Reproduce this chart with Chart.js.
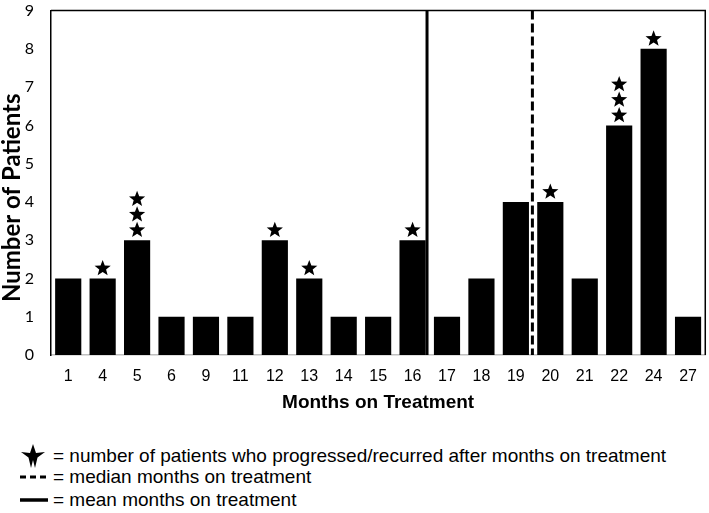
<!DOCTYPE html>
<html>
<head>
<meta charset="utf-8">
<script src="https://cdn.jsdelivr.net/npm/chart.js@4"></script>
<style>
  html, body { margin: 0; padding: 0; background: #fff; overflow: hidden; }
  #wrap { position: relative; width: 709px; height: 513px; overflow: hidden; font-family: "Liberation Sans", Arial, sans-serif; }
  #chartBox { position: absolute; left: 0; top: -16px; width: 709px; height: 436px; }
  #legend { position: absolute; left: 0; top: 445px; width: 709px; }
  .row { position: absolute; left: 0; height: 22px; width: 709px; font-size: 19px; line-height: 22px; color: #000; white-space: nowrap; }
  .row svg { position: absolute; }
  .row span { position: absolute; left: 53px; top: 0; }
</style>
</head>
<body>
<div id="wrap">
  <div id="chartBox"><canvas id="c" width="709" height="436"></canvas></div>
  <div id="legend"></div>
</div>
<script>
// ---- data ----
const months = ['1','4','5','6','9','11','12','13','14','15','16','17','18','19','20','21','22','24','27'];
const patients = [2,2,3,1,1,1,3,2,1,1,3,1,2,4,4,2,6,8,1];
const progressed = [0,1,3,0,0,0,1,1,0,0,1,0,0,0,1,0,3,1,0];
const yTicks = [0,1,2,3,4,5,6,7,8,9];
// reference line positions, in category-index units on the x axis
const meanPosition = [10.42];
const medianPosition = [13.48];
const yTitle = 'Number of Patients';
const xTitle = 'Months on Treatment';
const legendTexts = [
  '= number of patients who progressed/recurred after months on treatment',
  '= median months on treatment',
  '= mean months on treatment'
];

function starPath(ctx, cx, cy, ro, ri) {
  ctx.beginPath();
  for (let i = 0; i < 10; i++) {
    const r = i % 2 === 0 ? ro : ri;
    const a = -Math.PI / 2 + i * Math.PI / 5;
    const x = cx + r * Math.cos(a), y = cy + r * Math.sin(a);
    if (i === 0) ctx.moveTo(x, y); else ctx.lineTo(x, y);
  }
  ctx.closePath();
}

const overlay = {
  id: 'overlay',
  afterDatasetsDraw(chart) {
    const ctx = chart.ctx, a = chart.chartArea, xs = chart.scales.x;
    ctx.save();
    ctx.strokeStyle = '#000'; ctx.lineWidth = 1.5;
    ctx.beginPath();
    ctx.moveTo(a.left, a.top); ctx.lineTo(a.right, a.top); ctx.lineTo(a.right, a.bottom);
    ctx.stroke();
    ctx.lineWidth = 3;
    meanPosition.forEach(p => {
      const x = xs.getPixelForValue(p);
      ctx.setLineDash([]);
      ctx.beginPath(); ctx.moveTo(x, a.top); ctx.lineTo(x, a.bottom); ctx.stroke();
    });
    medianPosition.forEach(p => {
      const x = xs.getPixelForValue(p);
      ctx.setLineDash([9, 4]);
      ctx.beginPath(); ctx.moveTo(x, a.top); ctx.lineTo(x, a.bottom); ctx.stroke();
    });
    ctx.setLineDash([]);
    const meta = chart.getDatasetMeta(0);
    ctx.fillStyle = '#000';
    meta.data.forEach((bar, i) => {
      for (let k = 0; k < progressed[i]; k++) {
        starPath(ctx, bar.x, bar.y - 10 - k * 15.5, 8.5, 3.6);
        ctx.fill();
      }
    });
    // y axis title (rotated), slightly below the plot centre as in the reference
    ctx.translate(12, (a.top + a.bottom) / 2 + 15);
    ctx.rotate(-Math.PI / 2);
    ctx.font = 'bold 24px Lato';
    ctx.textAlign = 'center';
    ctx.textBaseline = 'middle';
    ctx.fillText(yTitle, 0, 0);
    ctx.restore();
  }
};

new Chart(document.getElementById('c'), {
  type: 'bar',
  data: {
    labels: months,
    datasets: [{
      data: patients,
      backgroundColor: '#000',
      borderWidth: 0,
      categoryPercentage: 1,
      barPercentage: 0.76
    }]
  },
  options: {
    responsive: false,
    animation: false,
    layout: { padding: { top: 0, right: 2, left: 0, bottom: 0 } },
    plugins: { legend: { display: false }, tooltip: { enabled: false } },
    scales: {
      x: {
        afterFit(scale) { scale.height = 65; },
        grid: { display: false, drawTicks: false },
        border: { display: true, color: '#c0c0c0', width: 1.5 },
        ticks: { color: '#000', font: { family: 'Liberation Sans', size: 16 }, padding: 12, maxRotation: 0, autoSkip: false },
        title: { display: true, text: xTitle, color: '#000',
                 font: { family: 'Liberation Sans', size: 19, weight: 'bold' }, padding: { top: 4, bottom: 6 } }
      },
      y: {
        min: 0, max: 9,
        afterFit(scale) { scale.width = 51; },
        afterBuildTicks(scale) { scale.ticks = yTicks.map(v => ({ value: v })); },
        grid: { display: false, drawTicks: false },
        border: { display: true, color: '#000', width: 1.5 },
        ticks: { color: '#000', font: { family: 'Lato', size: 16 }, padding: 17 },
        title: { display: false }
      }
    }
  },
  plugins: [overlay]
});

// ---- legend (HTML text) ----
const legend = document.getElementById('legend');
const icons = [
  '<svg width="30" height="26" style="left:18px;top:-2px" viewBox="0 0 30 26"><path d="M15 1 L18 10 L27 9 L19.5 14.5 L17 25 L15 17 L13 25 L10.5 14.5 L3 9 L12 10 Z" fill="#000"/></svg>',
  '<svg width="30" height="6" style="left:20px;top:8px"><line x1="0" y1="3" x2="28" y2="3" stroke="#000" stroke-width="3" stroke-dasharray="6,4"/></svg>',
  '<svg width="30" height="6" style="left:20px;top:8px"><line x1="0" y1="3" x2="28" y2="3" stroke="#000" stroke-width="3.5"/></svg>'
];
const tops = [0, 21, 44];
legendTexts.forEach((t, i) => {
  const row = document.createElement('div');
  row.className = 'row';
  row.style.top = tops[i] + 'px';
  row.innerHTML = icons[i] + '<span>' + t + '</span>';
  legend.appendChild(row);
});
</script>
</body>
</html>
